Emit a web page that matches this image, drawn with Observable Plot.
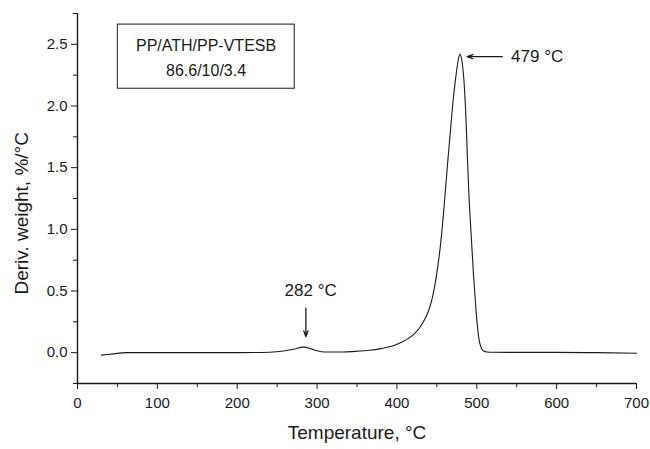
<!DOCTYPE html>
<html>
<head>
<meta charset="utf-8">
<script src="https://cdn.jsdelivr.net/npm/d3@7"></script>
<script src="https://cdn.jsdelivr.net/npm/@observablehq/plot@0.6"></script>
<style>
  html, body { margin: 0; padding: 0; background: #fff; }
  #chart { width: 650px; height: 449px; }
</style>
</head>
<body>
<div id="chart"></div>
<script>
// ---- data ----
const temperature = [30, 45, 60, 100, 150, 200, 240, 260, 272, 282, 292, 300, 310, 330, 350, 365, 380, 395, 405, 415, 422, 428, 434, 439, 443, 447, 451, 455, 459, 463, 467, 470, 474, 477, 479, 481, 484, 486, 488, 490, 493, 496, 499, 501, 503, 505, 508, 513, 520, 600, 650, 700];
const derivWeight = [-0.02, -0.01, 0.0, 0.0, 0.0, 0.0, 0.003, 0.015, 0.03, 0.045, 0.033, 0.015, 0.005, 0.005, 0.011, 0.019, 0.033, 0.056, 0.082, 0.118, 0.155, 0.198, 0.26, 0.33, 0.41, 0.53, 0.69, 0.9, 1.18, 1.5, 1.8, 2.02, 2.25, 2.38, 2.42, 2.38, 2.2, 1.97, 1.63, 1.3, 0.95, 0.62, 0.35, 0.2, 0.1, 0.05, 0.015, 0.005, 0.003, 0.002, 0.0, -0.005];

const xDomain = [0, 700];
const yDomain = [-0.25, 2.75];
const xTicks = [0, 100, 200, 300, 400, 500, 600, 700];
const xMinorTicks = [50, 150, 250, 350, 450, 550, 650];
const yTicks = [0.0, 0.5, 1.0, 1.5, 2.0, 2.5];
const yMinorTicks = [-0.25, 0.25, 0.75, 1.25, 1.75, 2.25, 2.75];

const xLabel = "Temperature, °C";
const yLabel = "Deriv. weight, %/°C";
const boxLines = ["PP/ATH/PP-VTESB", "86.6/10/3.4"];

// annotations (data units)
const peak1 = {label: "282 °C", x: 286, yFrom: 0.36, yTo: 0.13, labelX: 292, labelY: 0.5};
const peak2 = {label: "479 °C", xFrom: 532, xTo: 488, y: 2.40, labelX: 543};
const box = {x1: 50.5, x2: 272, y1: 2.14, y2: 2.66, line1Y: 2.49, line2Y: 2.285, cx: 161};
const yLabelPos = {x: 0, y: 1.13};

const data = temperature.map((t, i) => ({t, d: derivWeight[i]}));
const ink = "#1a1a1a";
const font = "'Liberation Sans', Arial, Helvetica, sans-serif";
const noText = () => "";

const chart = Plot.plot({
  width: 650,
  height: 449,
  marginTop: 13,
  marginRight: 14,
  marginBottom: 66,
  marginLeft: 77,
  style: {fontFamily: font, fontSize: "15px", color: ink, background: "#fff"},
  x: {domain: xDomain},
  y: {domain: yDomain},
  marks: [
    // axis lines
    Plot.ruleY([yDomain[0]], {stroke: ink, strokeWidth: 1.4}),
    Plot.ruleX([xDomain[0]], {stroke: ink, strokeWidth: 1.4}),
    // x axis
    Plot.axisX({ticks: xTicks, tickSize: 6, tickPadding: 8, tickFormat: d => String(d), label: null, fontSize: 15, stroke: ink, fill: ink}),
    Plot.axisX({ticks: xMinorTicks, tickSize: 4, tickFormat: noText, label: null, stroke: ink}),
    // y axis
    Plot.axisY({ticks: yTicks, tickSize: 6, tickPadding: 4, tickFormat: d => d.toFixed(1), label: null, fontSize: 15, stroke: ink, fill: ink}),
    Plot.axisY({ticks: yMinorTicks, tickSize: 4, tickFormat: noText, label: null, stroke: ink}),
    // axis titles
    Plot.text([xLabel], {frameAnchor: "bottom", dy: 55, fontSize: 19, fill: ink}),
    Plot.text([yLabelPos], {x: "x", y: "y", text: () => yLabel, rotate: -90, dx: -56, fontSize: 19, fill: ink}),
    // curve
    Plot.line(data, {x: "t", y: "d", stroke: ink, strokeWidth: 1.1, curve: "monotone-x"}),
    // legend box
    Plot.rect([box], {x1: "x1", x2: "x2", y1: "y1", y2: "y2", fill: "none", stroke: ink, strokeWidth: 1}),
    Plot.text([boxLines[0]], {x: box.cx, y: box.line1Y, fontSize: 16, fill: ink}),
    Plot.text([boxLines[1]], {x: box.cx, y: box.line2Y, fontSize: 16, fill: ink}),
    // annotations
    Plot.arrow([peak1], {x1: "x", x2: "x", y1: "yFrom", y2: "yTo", stroke: ink, strokeWidth: 1.3, headLength: 7, headAngle: 40}),
    Plot.text([peak1], {x: "labelX", y: "labelY", text: "label", fontSize: 17, fill: ink}),
    Plot.arrow([peak2], {x1: "xFrom", x2: "xTo", y1: "y", y2: "y", stroke: ink, strokeWidth: 1.3, headLength: 7, headAngle: 40}),
    Plot.text([peak2], {x: "labelX", y: "y", text: "label", textAnchor: "start", fontSize: 17, fill: ink})
  ]
});
document.getElementById("chart").appendChild(chart);
</script>
</body>
</html>
